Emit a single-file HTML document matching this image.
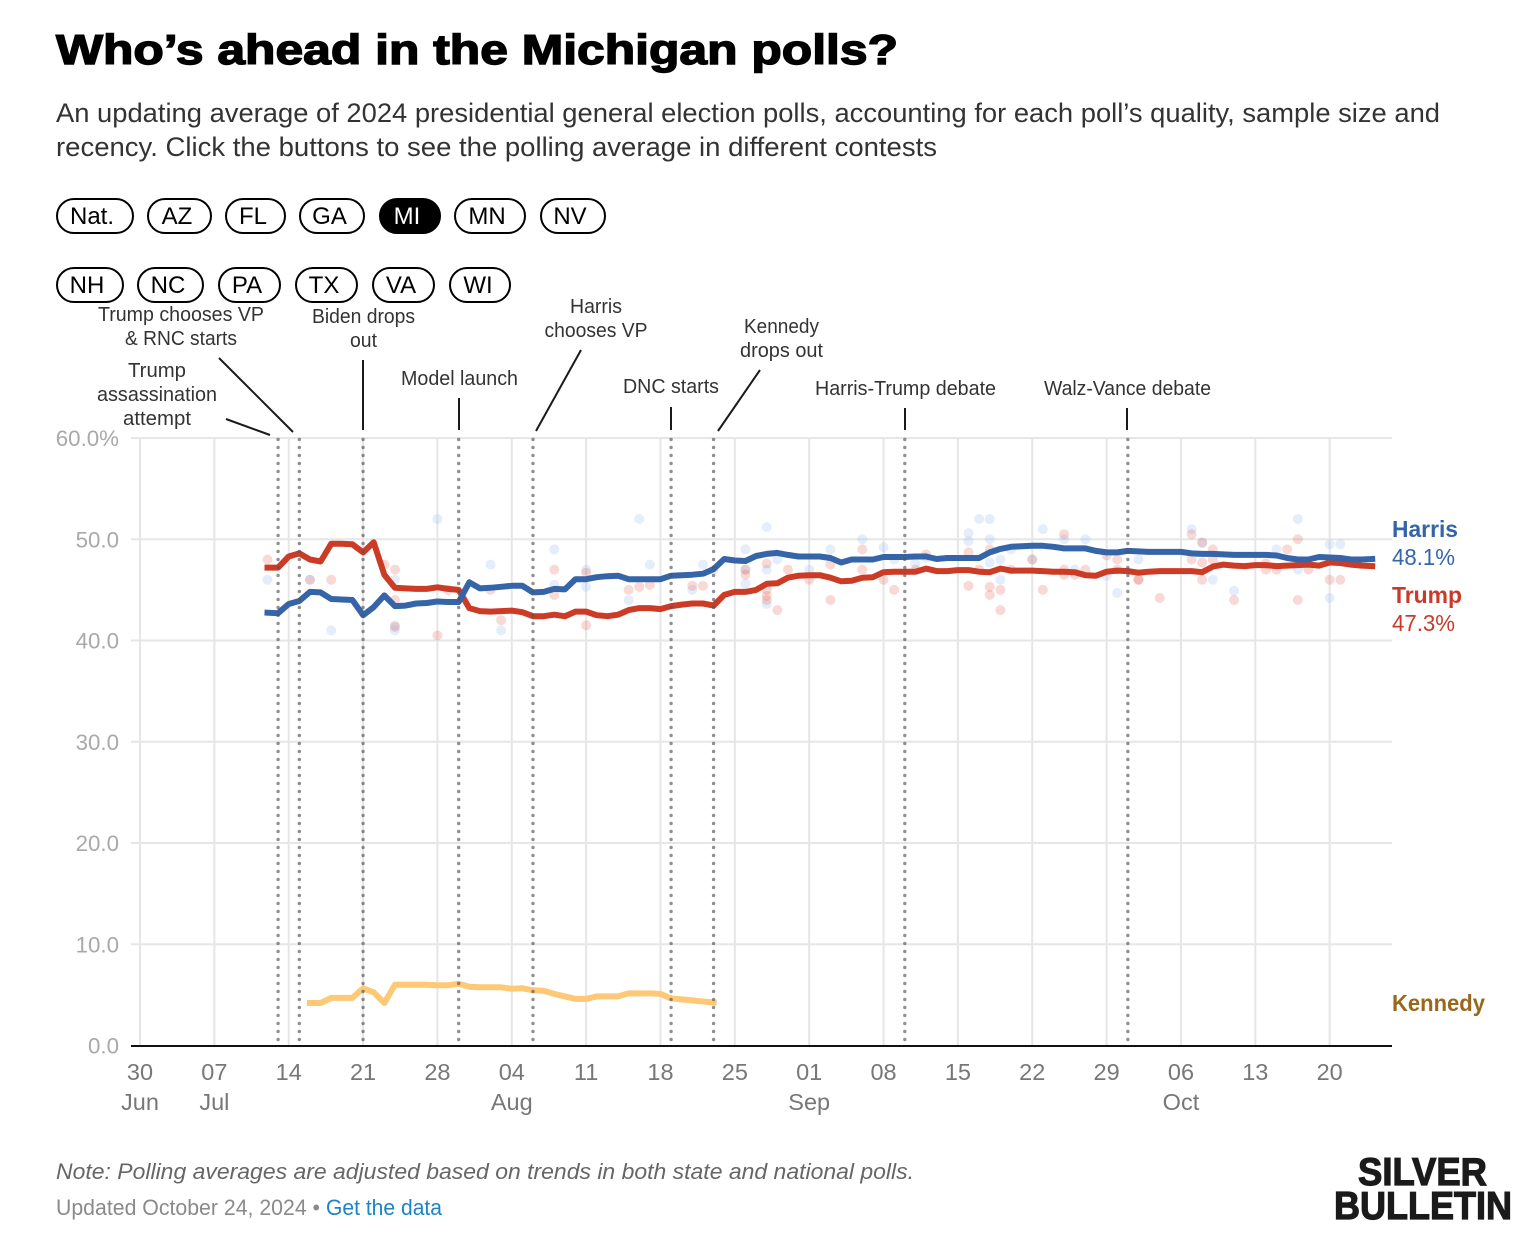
<!DOCTYPE html>
<html lang="en">
<head>
<meta charset="utf-8">
<title>Who's ahead in the Michigan polls?</title>
<style>
html,body{margin:0;padding:0;background:#fff;}
body{width:1540px;height:1246px;overflow:hidden;}
svg{display:block;}
text{font-family:"Liberation Sans",sans-serif;}
.sub{font-size:27px;fill:#333;}
.pill rect{fill:#fff;stroke:#000;stroke-width:2;}
.pill text{font-size:24px;fill:#000;text-anchor:middle;}
.pill.on rect{fill:#000;}
.pill.on text{fill:#fff;}
.ann{font-size:20px;fill:#333;text-anchor:middle;}
.lead{stroke:#1a1a1a;stroke-width:2;fill:none;}
.ylab{font-size:22.3px;fill:#a9a9a9;text-anchor:end;}
.xlab{font-size:23.5px;fill:#777;text-anchor:middle;}
.end-name{font-size:23px;font-weight:bold;}
.end-val{font-size:23px;}
</style>
</head>
<body>
<svg id="root" xmlns="http://www.w3.org/2000/svg" width="1540" height="1246" viewBox="0 0 1540 1246">
  <text x="56" y="64" font-size="42" font-weight="bold" fill="#000" stroke="#000" stroke-width="1.4" textLength="842" lengthAdjust="spacingAndGlyphs">Who’s ahead in the Michigan polls?</text>
  <text class="sub" x="56" y="122" textLength="1384" lengthAdjust="spacingAndGlyphs">An updating average of 2024 presidential general election polls, accounting for each poll’s quality, sample size and</text>
  <text class="sub" x="56" y="156" textLength="881" lengthAdjust="spacingAndGlyphs">recency. Click the buttons to see the polling average in different contests</text>

  <g class="pill"><rect x="57" y="199" width="76" height="34" rx="17"/><text x="92" y="224">Nat.</text></g>
  <g class="pill"><rect x="148" y="199" width="63" height="34" rx="17"/><text x="177" y="224">AZ</text></g>
  <g class="pill"><rect x="226" y="199" width="59" height="34" rx="17"/><text x="253" y="224">FL</text></g>
  <g class="pill"><rect x="300" y="199" width="64" height="34" rx="17"/><text x="329.500" y="224">GA</text></g>
  <g class="pill on"><rect x="380" y="199" width="60" height="34" rx="17"/><text x="407" y="224">MI</text></g>
  <g class="pill"><rect x="455" y="199" width="70" height="34" rx="17"/><text x="487" y="224">MN</text></g>
  <g class="pill"><rect x="541" y="199" width="64" height="34" rx="17"/><text x="570" y="224">NV</text></g>

  <g class="pill"><rect x="57" y="268" width="66" height="34" rx="17"/><text x="87" y="293">NH</text></g>
  <g class="pill"><rect x="138" y="268" width="65" height="34" rx="17"/><text x="168" y="293">NC</text></g>
  <g class="pill"><rect x="219" y="268" width="61" height="34" rx="17"/><text x="247" y="293">PA</text></g>
  <g class="pill"><rect x="296" y="268" width="61" height="34" rx="17"/><text x="324" y="293">TX</text></g>
  <g class="pill"><rect x="373" y="268" width="61" height="34" rx="17"/><text x="401" y="293">VA</text></g>
  <g class="pill"><rect x="450" y="268" width="60" height="34" rx="17"/><text x="478" y="293">WI</text></g>

  <g id="grid"></g>
  <g id="polls"></g>
  <g id="lines"></g>
  <g id="events"></g>
  <g id="axes"></g>

  <g>
    <text class="ann" x="181" y="321" textLength="166" lengthAdjust="spacingAndGlyphs">Trump chooses VP</text>
    <text class="ann" x="181" y="345" textLength="112" lengthAdjust="spacingAndGlyphs">&amp; RNC starts</text>
    <text class="ann" x="363.500" y="323" textLength="103" lengthAdjust="spacingAndGlyphs">Biden drops</text>
    <text class="ann" x="363.500" y="347" textLength="27" lengthAdjust="spacingAndGlyphs">out</text>
    <text class="ann" x="157" y="377" textLength="58" lengthAdjust="spacingAndGlyphs">Trump</text>
    <text class="ann" x="157" y="401" textLength="120" lengthAdjust="spacingAndGlyphs">assassination</text>
    <text class="ann" x="157" y="425" textLength="68" lengthAdjust="spacingAndGlyphs">attempt</text>
    <text class="ann" x="459.500" y="385" textLength="117" lengthAdjust="spacingAndGlyphs">Model launch</text>
    <text class="ann" x="596" y="313" textLength="52" lengthAdjust="spacingAndGlyphs">Harris</text>
    <text class="ann" x="596" y="337" textLength="103" lengthAdjust="spacingAndGlyphs">chooses VP</text>
    <text class="ann" x="671" y="393" textLength="96" lengthAdjust="spacingAndGlyphs">DNC starts</text>
    <text class="ann" x="781.500" y="333" textLength="75" lengthAdjust="spacingAndGlyphs">Kennedy</text>
    <text class="ann" x="781.500" y="357" textLength="83" lengthAdjust="spacingAndGlyphs">drops out</text>
    <text class="ann" x="905.500" y="395" textLength="181" lengthAdjust="spacingAndGlyphs">Harris-Trump debate</text>
    <text class="ann" x="1127.500" y="395" textLength="167" lengthAdjust="spacingAndGlyphs">Walz-Vance debate</text>
  </g>
  <g>
    <line class="lead" x1="226" y1="419" x2="270" y2="435"/>
    <line class="lead" x1="219" y1="358" x2="293" y2="432"/>
    <line class="lead" x1="363" y1="360" x2="363" y2="430"/>
    <line class="lead" x1="459" y1="398" x2="459" y2="430"/>
    <line class="lead" x1="581" y1="350" x2="536" y2="431"/>
    <line class="lead" x1="671" y1="407" x2="671" y2="430"/>
    <line class="lead" x1="760" y1="370" x2="718" y2="431"/>
    <line class="lead" x1="905" y1="408" x2="905" y2="430"/>
    <line class="lead" x1="1127" y1="408" x2="1127" y2="430"/>
  </g>

  <g>
    <text class="end-name" x="1392" y="537" fill="#3565a8" textLength="66" lengthAdjust="spacingAndGlyphs">Harris</text>
    <text class="end-val" x="1392" y="565" fill="#3565a8" textLength="63" lengthAdjust="spacingAndGlyphs">48.1%</text>
    <text class="end-name" x="1392" y="603" fill="#c93a2b" textLength="70" lengthAdjust="spacingAndGlyphs">Trump</text>
    <text class="end-val" x="1392" y="631" fill="#c93a2b" textLength="63" lengthAdjust="spacingAndGlyphs">47.3%</text>
    <text class="end-name" x="1392" y="1011" fill="#99681c" textLength="93" lengthAdjust="spacingAndGlyphs">Kennedy</text>
  </g>

  <text x="56" y="1179" font-size="22.500" font-style="italic" fill="#666" textLength="858" lengthAdjust="spacingAndGlyphs">Note: Polling averages are adjusted based on trends in both state and national polls.</text>
  <text x="56" y="1215" font-size="22" fill="#8a8a8a" textLength="264" lengthAdjust="spacingAndGlyphs">Updated October 24, 2024 •</text>
  <text x="326" y="1215" font-size="22" fill="#1b84c6" textLength="116" lengthAdjust="spacingAndGlyphs">Get the data</text>

  <g>
    <text x="1358" y="1185" font-size="39" font-weight="bold" fill="#1a1a1a" stroke="#1a1a1a" stroke-width="1.2" textLength="129" lengthAdjust="spacingAndGlyphs">SILVER</text>
    <text x="1334" y="1219" font-size="39" font-weight="bold" fill="#1a1a1a" stroke="#1a1a1a" stroke-width="1.2" textLength="178" lengthAdjust="spacingAndGlyphs">BULLETIN</text>
  </g>
</svg>

<script>
// Chart data. Days are counted from June 30.
const harrisFirstDay = 12;
const harrisValues = [42.75,42.7,43.6,43.9,44.8,44.75,44.1,44.05,44.0,42.5,43.3,44.45,43.4,43.45,43.65,43.7,43.85,43.8,43.8,45.75,45.15,45.2,45.3,45.4,45.4,44.75,44.8,45.1,45.05,46.05,46.05,46.25,46.35,46.4,46.05,46.05,46.05,46.05,46.4,46.45,46.5,46.6,47.05,48.05,47.9,47.85,48.35,48.55,48.65,48.45,48.3,48.3,48.3,48.15,47.7,48.0,48.0,48.0,48.25,48.25,48.25,48.3,48.3,48.05,48.15,48.15,48.15,48.15,48.7,49.05,49.25,49.3,49.35,49.35,49.25,49.1,49.1,49.1,48.85,48.7,48.7,48.85,48.8,48.75,48.75,48.75,48.75,48.6,48.55,48.55,48.5,48.45,48.45,48.45,48.45,48.4,48.15,48.0,48.0,48.25,48.2,48.15,48.0,48.0,48.05];
const trumpFirstDay = 12;
const trumpValues = [47.2,47.2,48.3,48.6,48.0,47.8,49.55,49.55,49.5,48.7,49.7,46.5,45.2,45.15,45.1,45.1,45.25,45.1,45.0,43.2,42.9,42.85,42.9,42.95,42.8,42.4,42.4,42.55,42.4,42.85,42.85,42.5,42.4,42.55,43.0,43.2,43.2,43.1,43.4,43.55,43.65,43.65,43.45,44.5,44.8,44.8,45.0,45.6,45.65,46.2,46.4,46.45,46.45,46.2,45.85,45.9,46.2,46.25,46.75,46.8,46.8,46.8,47.1,46.85,46.85,46.95,46.95,46.8,46.75,47.1,46.9,46.9,46.9,46.85,46.8,46.8,46.75,46.45,46.4,46.8,46.9,46.85,46.7,46.8,46.85,46.85,46.85,46.85,46.75,47.3,47.5,47.4,47.35,47.45,47.45,47.35,47.4,47.45,47.5,47.4,47.7,47.65,47.5,47.4,47.35];
const kennedyFirstDay = 16;
const kennedyValues = [4.2,4.2,4.7,4.7,4.7,5.65,5.25,4.2,6.0,6.0,6.0,6.0,5.95,5.95,6.1,5.8,5.75,5.75,5.75,5.6,5.65,5.45,5.4,5.1,4.85,4.6,4.6,4.85,4.85,4.85,5.15,5.15,5.15,5.1,4.65,4.55,4.45,4.35,4.25];

const harrisPollDays = [12,16,18,24,24,24,28,33,34,39,39,47,42,42,48,46,52,53,54,57,57,57,59,59,59,60,63,65,68,70,71,73,74,78,78,79,80,80,80,81,81,82,84,85,87,89,88,91,92,94,99,100,101,103,107,109,109,112,113,112];
const harrisPollValues = [46,46,41,46,41.5,41,52,47.5,41,49,45.5,52,47,45.3,47.5,44,45,47.5,47,49,47,45.6,51.2,47,43.6,48,47,49,50,49.2,48,47.6,48.2,50.6,49.8,52,52,50,47.7,48,46,49,48,51,50,50,47,46.4,44.7,48,51,49.6,46,44.9,49,52,47,49.5,49.5,44.2];
const trumpPollDays = [12,16,18,23,24,24,24,28,29,33,34,42,39,39,42,46,47,48,52,53,57,57,59,59,59,59,60,61,63,65,65,68,68,70,71,73,74,78,78,79,80,80,80,81,81,82,84,85,87,87,87,88,89,91,92,92,94,94,96,99,99,100,100,100,101,101,103,106,106,107,108,109,109,110,112,113];
const trumpPollValues = [48,46,46,47.5,47,44,41.35,40.5,45,45,42,41.5,47,44.5,46.7,45,45.3,45.5,45.4,45.4,47,46.5,47.6,45,44.4,44,43,47,46,47.5,44,49,47,46,45,47,48.5,48.7,45.4,47,49,45.3,44.5,45,43,47,48,45,50.5,47,46.5,46.5,47,48.4,48,47,46,46,44.2,50.5,48,49.7,47.7,46,49,48,44,47.6,47,47,49,50,44,47,46,46];

const eventDays = [13,15,21,30,37,50,54,72,93];
const eventNames = ['trump-assassination-attempt','trump-chooses-vp','biden-drops-out','model-launch','harris-chooses-vp','dnc-starts','kennedy-drops-out','harris-trump-debate','walz-vance-debate'];

const xTickDays = [0,7,14,21,28,35,42,49,56,63,70,77,84,91,98,105,112];
const xTickLabels = ['30','07','14','21','28','04','11','18','25','01','08','15','22','29','06','13','20'];
const xMonthLabels = ['Jun','Jul','','','','Aug','','','','Sep','','','','','Oct','',''];
const yTickValues = [0,10,20,30,40,50,60];
const yTickLabels = ['0.0','10.0','20.0','30.0','40.0','50.0','60.0%'];

const NS = 'http://www.w3.org/2000/svg';
function xScale(day){ return 140 + day * 10.622; }
function yScale(v){ return 1045.5 - v * 10.125; }
function make(tag, parent){
  const el = document.createElementNS(NS, tag);
  parent.appendChild(el);
  return el;
}
const grid = document.getElementById('grid');
const polls = document.getElementById('polls');
const lines = document.getElementById('lines');
const events = document.getElementById('events');
const axes = document.getElementById('axes');

yTickValues.forEach(function(v, i){
  if (v === 0) return;
  const ln = make('line', grid);
  
  
  ln.setAttribute('x1', 131);
  ln.setAttribute('x2', 1392);
  ln.setAttribute('y1', yScale(v));
  ln.setAttribute('y2', yScale(v));
  ln.setAttribute('stroke', '#e6e6e6');
  ln.setAttribute('stroke-width', 2);
});
yTickValues.forEach(function(v, i){
  const t = make('text', axes);
  
  
  t.setAttribute('class', 'ylab');
  t.setAttribute('x', 119);
  t.setAttribute('y', yScale(v) + 8);
  t.textContent = yTickLabels[i];
});
xTickDays.forEach(function(d, i){
  const ln = make('line', grid);
  
  
  ln.setAttribute('x1', xScale(d));
  ln.setAttribute('x2', xScale(d));
  ln.setAttribute('y1', yScale(60));
  ln.setAttribute('y2', yScale(0));
  ln.setAttribute('stroke', '#e6e6e6');
  ln.setAttribute('stroke-width', 2);

  const t = make('text', axes);
  
  
  t.setAttribute('class', 'xlab');
  t.setAttribute('x', xScale(d));
  t.setAttribute('y', 1080);
  t.textContent = xTickLabels[i];

  if (xMonthLabels[i]) {
    const m = make('text', axes);
    
    
    m.setAttribute('class', 'xlab');
    m.setAttribute('x', xScale(d));
    m.setAttribute('y', 1110);
    m.textContent = xMonthLabels[i];
  }
});

function drawPolls(days, values, color, alpha){
  days.forEach(function(d, i){
    const c = make('circle', polls);
    
    
    c.setAttribute('cx', xScale(d));
    c.setAttribute('cy', yScale(values[i]));
    c.setAttribute('r', 5);
    c.setAttribute('fill', color);
    c.setAttribute('fill-opacity', alpha);
  });
}
drawPolls(harrisPollDays, harrisPollValues, '#9cc0f5', 0.28);
drawPolls(trumpPollDays, trumpPollValues, '#e06050', 0.24);

function drawLine(name, firstDay, values, color){
  const p = make('polyline', lines);
  
  
  p.setAttribute('points', values.map(function(v, i){
    return xScale(firstDay + i).toFixed(1) + ',' + yScale(v).toFixed(1);
  }).join(' '));
  p.setAttribute('fill', 'none');
  p.setAttribute('stroke', color);
  p.setAttribute('stroke-width', 6);
  p.setAttribute('stroke-linejoin', 'round');
  p.setAttribute('stroke-linecap', 'square');
}
drawLine('kennedy-line', kennedyFirstDay, kennedyValues, '#fdc976');
drawLine('trump-line', trumpFirstDay, trumpValues, '#cc3b26');
drawLine('harris-line', harrisFirstDay, harrisValues, '#3565a8');

eventDays.forEach(function(d, i){
  const ln = make('line', events);
  
  
  ln.setAttribute('x1', xScale(d));
  ln.setAttribute('x2', xScale(d));
  ln.setAttribute('y1', 439.500);
  ln.setAttribute('y2', 1045);
  ln.setAttribute('stroke', '#555');
  ln.setAttribute('stroke-opacity', 0.65);
  ln.setAttribute('stroke-width', 3.4);
  ln.setAttribute('stroke-linecap', 'round');
  ln.setAttribute('stroke-dasharray', '0 8');
});

const base = make('line', axes);


base.setAttribute('x1', 131);
base.setAttribute('x2', 1392);
base.setAttribute('y1', 1046);
base.setAttribute('y2', 1046);
base.setAttribute('stroke', '#111');
base.setAttribute('stroke-width', 2);
</script>
</body>
</html>
